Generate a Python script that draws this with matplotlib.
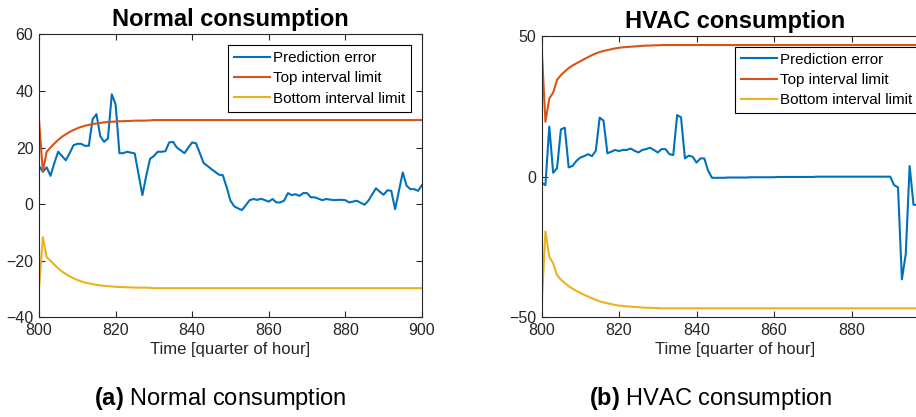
import matplotlib
matplotlib.use('Agg')
import matplotlib.pyplot as plt

plt.rcParams['font.family'] = ['Liberation Sans', 'DejaVu Sans']
plt.rcParams['mathtext.fontset'] = 'custom'
plt.rcParams['mathtext.rm'] = 'Liberation Sans'
plt.rcParams['mathtext.bf'] = 'Liberation Sans:bold'

## time axis (quarter of hour)
time = list(range(800, 901))

## Normal consumption
err_normal = [13.5, 11.4, 13.0, 10.0, 14.5, 18.5, 17.0, 15.5, 18.0, 20.8,
              21.3, 21.3, 20.6, 20.6, 30.0, 31.8, 24.0, 22.0, 23.2, 38.8,
              35.3, 18.0, 18.0, 18.5, 18.2, 17.9, 10.5, 3.2, 10.0, 16.0,
              17.0, 18.5, 18.5, 18.7, 21.8, 22.0, 20.0, 19.0, 18.0, 20.0,
              21.8, 21.5, 18.0, 14.5, 13.5, 12.4, 11.4, 10.4, 10.2, 6.0,
              1.2, -0.8, -1.5, -2.1, -0.4, 1.4, 1.8, 1.5, 1.9, 1.4,
              0.9, 1.8, 0.6, 0.6, 1.2, 3.9, 3.2, 3.5, 2.9, 3.9,
              3.9, 2.4, 2.4, 1.9, 1.4, 1.8, 1.6, 1.4, 1.5, 1.5,
              1.4, 0.6, 0.9, 1.2, 0.5, -0.2, 1.2, 3.4, 5.6, 4.4,
              3.3, 4.9, 4.7, -1.8, 4.7, 11.2, 6.5, 5.3, 5.3, 4.7,
              6.7]
top_normal = [29.7, 11.5, 18.5, 20.0, 21.4, 22.7, 23.8, 24.7, 25.5, 26.2,
              26.8, 27.3, 27.7, 28.0, 28.3, 28.5, 28.7, 28.9, 29.0, 29.1,
              29.2, 29.3, 29.3, 29.4, 29.4, 29.5, 29.5, 29.5, 29.5, 29.6] + [29.7] * 71
bottom_normal = [-29.7, -11.7, -18.8, -20.0, -21.4, -22.7, -23.8, -24.7, -25.5, -26.2,
                 -26.8, -27.3, -27.7, -28.0, -28.3, -28.5, -28.7, -28.9, -29.0, -29.1,
                 -29.2, -29.3, -29.3, -29.4, -29.4, -29.5, -29.5, -29.5, -29.5, -29.6] + [-29.7] * 71

## HVAC consumption
err_hvac = [-2.1, -3.0, 17.8, 1.4, 3.0, 16.8, 17.4, 3.3, 3.8, 5.6,
            6.8, 7.3, 8.0, 7.3, 9.2, 21.0, 19.9, 8.3, 8.9, 9.5,
            9.1, 9.5, 9.5, 10.0, 9.2, 8.6, 9.5, 9.8, 10.3, 9.5,
            8.6, 9.8, 9.8, 8.0, 7.7, 21.9, 21.1, 6.5, 7.5, 7.1,
            5.0, 6.5, 6.5, 2.1, -0.4, -0.4, -0.4, -0.4, -0.3, -0.3,
            -0.3, -0.3, -0.3, -0.3, -0.2, -0.2, -0.2, -0.2, -0.2, -0.2,
            -0.2, -0.1, -0.1, -0.1, -0.1, -0.1, -0.1, -0.1, -0.1, -0.1,
            -0.1, 0.0, 0.0, 0.0, 0.0, 0.0, 0.0, 0.0, 0.0, 0.0,
            0.0, 0.0, 0.0, 0.0, 0.0, 0.0, 0.0, 0.0, 0.0, 0.0,
            0.0, -3.0, -3.8, -36.5, -27.5, 3.8, -10.0, -10.0, -10.0, -10.0,
            -10.0]
top_hvac = [46.8, 19.5, 27.8, 29.9, 34.4, 36.1, 37.4, 38.6, 39.5, 40.3,
            41.0, 41.8, 42.5, 43.2, 43.8, 44.3, 44.7, 45.0, 45.3, 45.6,
            45.8, 46.0, 46.1, 46.2, 46.3, 46.4, 46.5, 46.6, 46.6, 46.7,
            46.7] + [46.8] * 70
bottom_hvac = [-46.8, -19.5, -28.4, -30.8, -35.0, -36.6, -37.8, -38.9, -39.8, -40.6,
               -41.3, -42.0, -42.6, -43.2, -43.8, -44.3, -44.7, -45.0, -45.3, -45.6,
               -45.8, -46.0, -46.1, -46.2, -46.3, -46.4, -46.5, -46.6, -46.6, -46.7,
               -46.7] + [-46.8] * 70

labels = ['Prediction error', 'Top interval limit', 'Bottom interval limit']
colors = ['#0072BD', '#D95319', '#EDB120']
ax_col = '#262626'

fig = plt.figure(figsize=(9.16, 4.17), dpi=100)
ax1 = fig.add_axes([0.0426, 0.239, 0.418, 0.6787])
ax2 = fig.add_axes([0.5912, 0.239, 0.423, 0.6746])


def draw(ax, err, top, bottom, title, ylim, xticks, yticks, caption_x, caption):
    ax.plot(time, err, color=colors[0], lw=1.5, label=labels[0])
    ax.plot(time, top, color=colors[1], lw=1.5, label=labels[1])
    ax.plot(time, bottom, color=colors[2], lw=1.5, label=labels[2])
    ax.set_xlim(800, 900)
    ax.set_ylim(*ylim)
    ax.set_xticks(xticks)
    ax.set_yticks(yticks)
    ax.tick_params(direction='in', top=True, right=True, labelsize=11.5,
                   colors=ax_col, labelcolor=ax_col, length=4, width=0.8, pad=4)
    for s in ax.spines.values():
        s.set_color(ax_col)
        s.set_linewidth(0.8)
    ax.set_title(title, fontsize=17, fontweight='bold', pad=6)
    ax.set_xlabel('Time [quarter of hour]', fontsize=12, color=ax_col, labelpad=3)
    leg = ax.legend(loc='upper right', fontsize=10.9, fancybox=False, framealpha=1,
                    edgecolor='black', borderpad=0.4, labelspacing=0.42,
                    handlelength=2.4, handletextpad=0.2, borderaxespad=0.7)
    leg.get_frame().set_linewidth(0.8)
    fig.text(caption_x, 1 - 399 / 417, caption, fontsize=17, ha='center', va='center')


draw(ax1, err_normal, top_normal, bottom_normal, 'Normal consumption',
     (-40, 60), range(800, 901, 20), range(-40, 61, 20), 220 / 916,
     r'$\mathbf{(a)}$ Normal consumption')
draw(ax2, err_hvac, top_hvac, bottom_hvac, 'HVAC consumption',
     (-50, 50), range(800, 881, 20), [-50, 0, 50], 711 / 916,
     r'$\mathbf{(b)}$ HVAC consumption')

fig.savefig('out.png', dpi=100)
